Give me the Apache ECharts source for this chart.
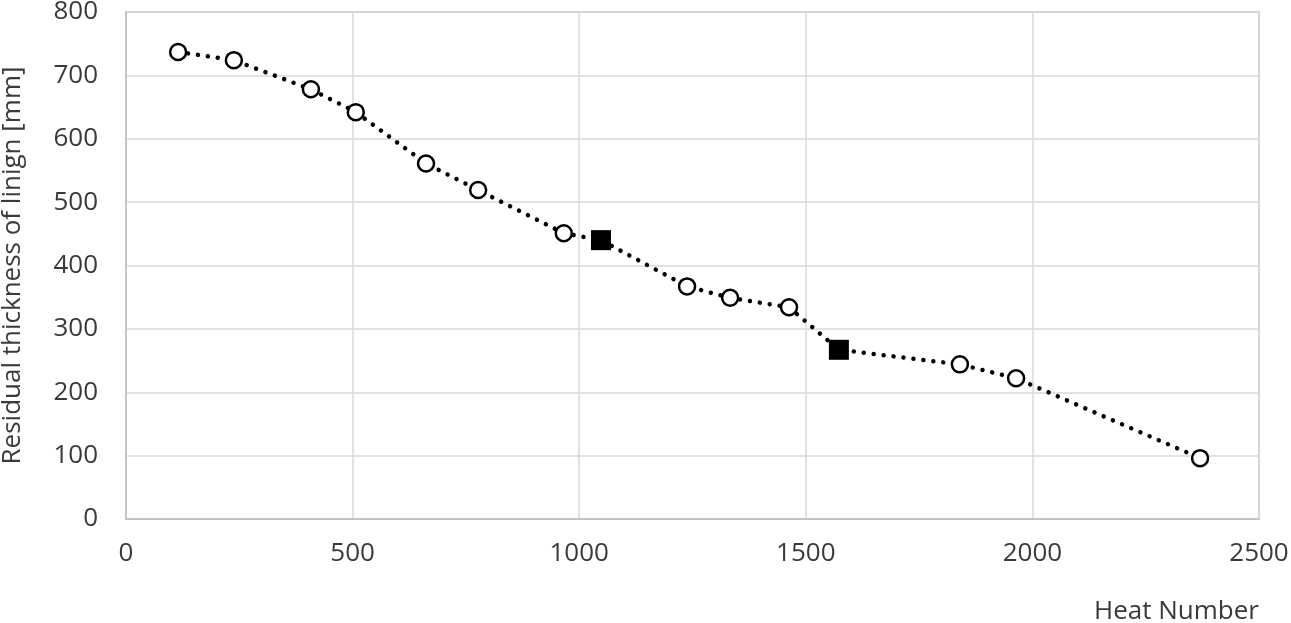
<!DOCTYPE html>
<html><head><meta charset="utf-8">
<script src="https://cdn.jsdelivr.net/npm/echarts@6/dist/echarts.min.js"></script>
<style>html,body{margin:0;padding:0;background:#fff}#c{width:1291px;height:623px}</style>
</head><body><div id="c"></div>
<script>
const heats = [115, 238, 408, 507, 662, 777, 966, 1048, 1238, 1333, 1463, 1573, 1840, 1964, 2370];
const thickness = [737, 724, 678, 642, 561, 519, 451, 440, 367, 349, 334, 267, 244, 222, 96];
const markerType = ['o','o','o','o','o','o','o','s','o','o','o','s','o','o','o'];
const xTicks = [0, 500, 1000, 1500, 2000, 2500];
const yTicks = [0, 100, 200, 300, 400, 500, 600, 700, 800];

const font = '"Open Sans", "Noto Sans", sans-serif';
const textColor = '#3a3a3a';
const pts = heats.map((h, i) => [h, thickness[i]]);
const circles = pts.filter((p, i) => markerType[i] === 'o');
const squares = pts.filter((p, i) => markerType[i] === 's');

const chart = echarts.init(document.getElementById('c'), null, {renderer: 'canvas'});
chart.setOption({
  animation: false,
  grid: {left: 126, right: 32, top: 12, bottom: 104, containLabel: false, outerBoundsMode: 'none',
         show: true, borderColor: '#bfbfbf', borderWidth: 1.5},
  xAxis: {
    type: 'value', min: xTicks[0], max: xTicks[xTicks.length - 1], interval: 500,
    name: 'Heat Number', nameLocation: 'end', nameGap: 0,
    nameTextStyle: {fontFamily: font, fontSize: 26, color: textColor, align: 'right', verticalAlign: 'top', padding: [80, 0, 0, 0]},
    axisLine: {show: true, lineStyle: {color: '#bfbfbf', width: 1.5}},
    axisTick: {show: false},
    axisLabel: {fontFamily: font, fontSize: 26, color: textColor, margin: 22, formatter: v => String(v)},
    splitLine: {show: true, lineStyle: {color: '#d9d9d9', width: 1.5}}
  },
  yAxis: {
    type: 'value', min: yTicks[0], max: yTicks[yTicks.length - 1], interval: 100,
    name: 'Residual thickness of linign [mm]', nameLocation: 'middle', nameGap: 100,
    nameTextStyle: {fontFamily: font, fontSize: 26, color: textColor},
    axisLine: {show: true, lineStyle: {color: '#bfbfbf', width: 1.5}},
    axisTick: {show: false},
    axisLabel: {fontFamily: font, fontSize: 26, color: textColor, margin: 28, formatter: v => String(v)},
    splitLine: {show: true, lineStyle: {color: '#d9d9d9', width: 1.5}}
  },
  series: [
    {type: 'line', data: pts, symbol: 'none', z: 2,
     lineStyle: {color: '#000', width: 4.5, type: [0.01, 10], cap: 'round'}},
    {type: 'scatter', data: circles, symbol: 'circle', symbolSize: 16, z: 3,
     itemStyle: {color: '#fff', borderColor: '#000', borderWidth: 2.5, opacity: 1}},
    {type: 'scatter', data: squares, symbol: 'rect', symbolSize: 20, z: 3,
     itemStyle: {color: '#000', borderColor: '#000', borderWidth: 0, opacity: 1}}
  ]
});
</script></body></html>
